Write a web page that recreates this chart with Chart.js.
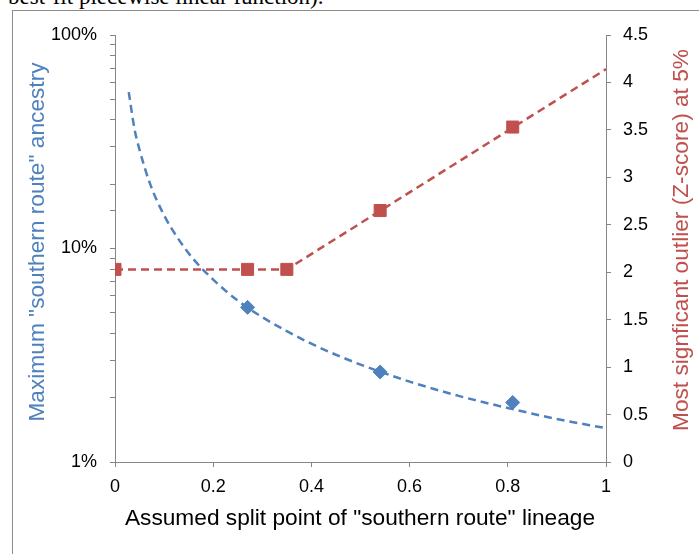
<!DOCTYPE html>
<html>
<head>
<meta charset="utf-8">
<script src="https://cdn.jsdelivr.net/npm/chart.js@4"></script>
<style>
  html, body { margin: 0; padding: 0; background: #fff; overflow: hidden; }
  body { width: 699px; height: 554px; position: relative; }
  #frame { position: absolute; left: 12px; top: 10px; width: 800px; height: 700px;
           border-left: 1px solid #8c8c8c; border-top: 1px solid #8c8c8c; }
  #caption { position: absolute; left: 8px; top: -14px; font: 23px/22px "Liberation Serif", "DejaVu Serif", serif;
             color: #000; white-space: nowrap; }
  #wrap { position: absolute; left: 0; top: 0; width: 699px; height: 554px; }
</style>
</head>
<body>
<div id="caption">best-fit piecewise linear function).</div>
<div id="frame"></div>
<div id="wrap"><canvas id="c" width="699" height="554"></canvas></div>
<script>
// ---- Data ----
// Blue: maximum "southern route" ancestry (%), left log axis
const ancestryX = [0.27, 0.54, 0.81];
const ancestryY = [5.3, 2.64, 1.9];
// Blue dashed best-fit curve
const ancestryFitX = [0.028, 0.04, 0.05, 0.07, 0.10, 0.13, 0.16, 0.20, 0.25, 0.30, 0.35, 0.40, 0.45, 0.50, 0.60, 0.70, 0.80, 0.90, 1.00];
const ancestryFitY = [54, 36, 29, 20.5, 14.3, 11, 8.9, 7.15, 5.7, 4.77, 4.1, 3.58, 3.18, 2.86, 2.38, 2.04, 1.79, 1.59, 1.44];
// Red: most significant outlier (Z-score) at 5%, right axis
const zScoreX = [0, 0.27, 0.35, 0.54, 0.81];
const zScoreY = [2.03, 2.03, 2.03, 2.65, 3.53];
// Red dashed piecewise linear fit
const zFitX = [0, 0.35, 1.0];
const zFitY = [2.03, 2.03, 4.14];
// Axis ticks / labels
const xTicks = [0, 0.2, 0.4, 0.6, 0.8, 1];
const leftMajorTicks = [1, 10, 100];
const rightTicks = [0, 0.5, 1, 1.5, 2, 2.5, 3, 3.5, 4, 4.5];
const xTitle = 'Assumed split point of "southern route" lineage';
const leftTitle = 'Maximum "southern route" ancestry';
const rightTitle = 'Most signficant outlier (Z-score) at 5%';

const BLUE = '#4F81BD';
const RED = '#C0504D';
const AXIS = '#868686';
const FONT = '"Liberation Sans", Arial, sans-serif';

const pts = (xs, ys) => xs.map((x, i) => ({ x: x, y: ys[i] }));

const titlePlugin = {
  id: 'titles',
  afterDraw(chart) {
    const ctx = chart.ctx;
    ctx.save();
    ctx.font = '22.7px ' + FONT;
    ctx.textAlign = 'center';
    ctx.textBaseline = 'alphabetic';
    // x title
    ctx.fillStyle = '#000';
    ctx.fillText(xTitle, 360, 525);
    // left title
    ctx.save();
    ctx.translate(44, 242);
    ctx.rotate(-Math.PI / 2);
    ctx.fillStyle = BLUE;
    ctx.fillText(leftTitle, 0, 0);
    ctx.restore();
    // right title
    ctx.save();
    ctx.translate(688, 240);
    ctx.rotate(-Math.PI / 2);
    ctx.fillStyle = RED;
    ctx.fillText(rightTitle, 0, 0);
    ctx.restore();
    ctx.restore();
  }
};

new Chart(document.getElementById('c'), {
  type: 'scatter',
  data: {
    datasets: [
      {
        label: 'ancestry',
        data: pts(ancestryX, ancestryY),
        yAxisID: 'yL',
        showLine: false,
        pointStyle: 'rectRot',
        pointRadius: 7,
        backgroundColor: BLUE,
        borderColor: BLUE,
        borderWidth: 1
      },
      {
        label: 'zscore',
        data: pts(zScoreX, zScoreY),
        yAxisID: 'yR',
        showLine: false,
        pointStyle: 'rect',
        pointRadius: 8.5,
        backgroundColor: RED,
        borderColor: RED,
        borderWidth: 1
      },
      {
        label: 'ancestry fit',
        type: 'line',
        data: pts(ancestryFitX, ancestryFitY),
        yAxisID: 'yL',
        borderColor: BLUE,
        borderWidth: 2.5,
        borderDash: [8, 5],
        pointRadius: 0,
        cubicInterpolationMode: 'monotone',
        fill: false
      },
      {
        label: 'zscore fit',
        type: 'line',
        data: pts(zFitX, zFitY),
        yAxisID: 'yR',
        borderColor: RED,
        borderWidth: 2.5,
        borderDash: [8, 5],
        pointRadius: 0,
        tension: 0,
        fill: false
      }
    ]
  },
  options: {
    responsive: false,
    animation: false,
    devicePixelRatio: 1,
    layout: { padding: { top: 35, left: 0, right: 0, bottom: 0 } },
    plugins: { legend: { display: false }, tooltip: { enabled: false } },
    scales: {
      x: {
        type: 'linear',
        min: 0, max: 1,
        afterBuildTicks: (s) => { s.ticks = xTicks.map(v => ({ value: v })); },
        ticks: { color: '#000', font: { family: FONT, size: 18 }, padding: 9,
                 callback: (v) => String(v) },
        grid: { drawOnChartArea: false, drawTicks: true, tickLength: 5, color: AXIS },
        border: { color: AXIS, width: 1 },
        afterFit: (s) => { s.height = 92; }
      },
      yL: {
        type: 'logarithmic',
        position: 'left',
        min: 1, max: 100,
        ticks: { color: '#000', font: { family: FONT, size: 18 }, padding: 13, autoSkip: false,
                 callback: (v) => leftMajorTicks.includes(v) ? v + '%' : '' },
        grid: { drawOnChartArea: false, drawTicks: true, tickLength: 5, color: AXIS },
        border: { color: AXIS, width: 1 },
        afterFit: (s) => { s.width = 115; }
      },
      yR: {
        type: 'linear',
        position: 'right',
        min: 0, max: 4.5,
        afterBuildTicks: (s) => { s.ticks = rightTicks.map(v => ({ value: v })); },
        ticks: { color: '#000', font: { family: FONT, size: 18 }, padding: 12, autoSkip: false,
                 callback: (v) => String(v) },
        grid: { drawOnChartArea: false, drawTicks: true, tickLength: 5, color: AXIS },
        border: { color: AXIS, width: 1 },
        afterFit: (s) => { s.width = 93; }
      }
    }
  },
  plugins: [titlePlugin]
});
</script>
</body>
</html>
